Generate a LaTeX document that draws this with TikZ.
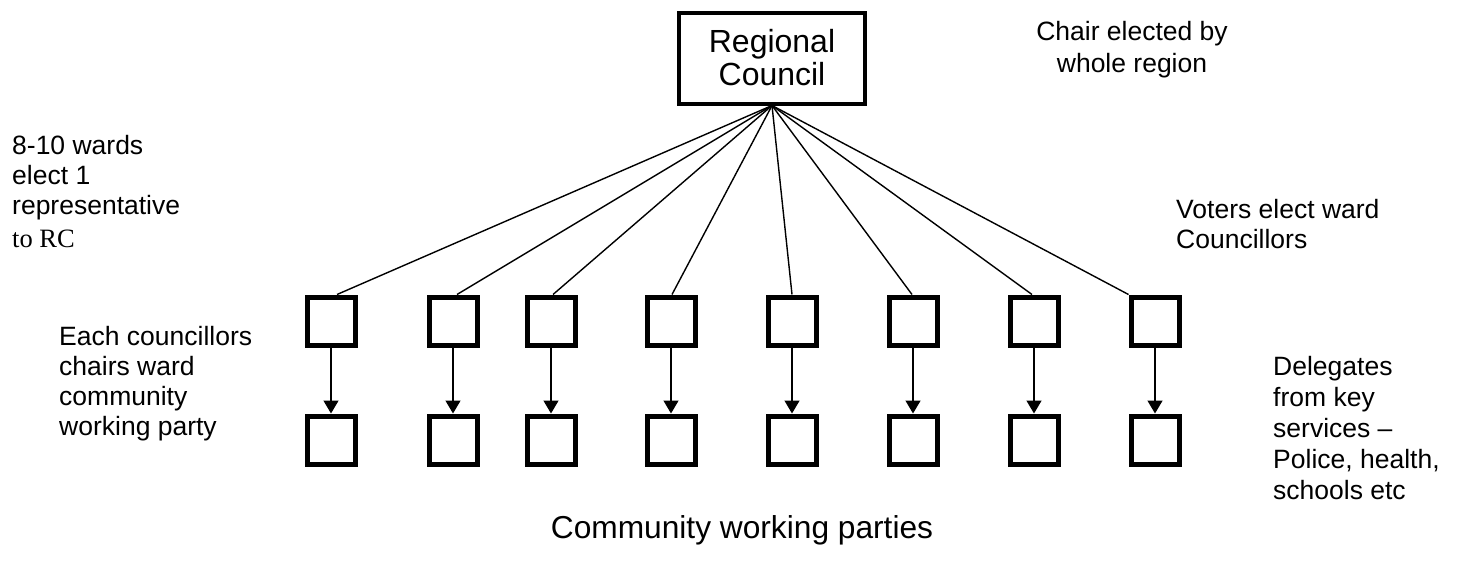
\documentclass[tikz,border=0pt]{standalone}
\usepackage{fontspec}
\setmainfont{Liberation Sans}
\newfontfamily\timesrm{Liberation Serif}
\usetikzlibrary{arrows.meta}
\begin{document}
\begin{tikzpicture}[x=1pt,y=-1pt,
  unit/.style={draw, line width=5pt, minimum size=48pt, inner sep=0pt},
  council/.style={draw, line width=4pt, minimum width=186pt, minimum height=91pt,
    inner sep=0pt, align=center, font=\fontsize{32}{33}\selectfont},
  note/.style={inner sep=0pt, align=left, anchor=base west,
    font=\fontsize{26.5}{30}\selectfont},
  cnote/.style={inner sep=0pt, align=center, anchor=base,
    font=\fontsize{26.5}{32}\selectfont},
  link/.style={line width=1.4pt},
  feed/.style={line width=1.4pt, -{Triangle[width=15pt,length=13pt]}},
]
\useasboundingbox (0,0) rectangle (1463,560);

% regional council at the top
\node[council] (rc) at (772,58) {Regional\\Council};

% ward councillors (top row) and community working parties (bottom row)
\foreach \i/\x in {1/331,2/453,3/551,4/671,5/792,6/913,7/1034,8/1155} {
  \node[unit] (t\i) at (\x,321) {};
  \node[unit] (b\i) at (\x,440) {};
}

% links from the council to each ward councillor
\foreach \i/\s in {1/6,2/4,3/2,4/1,5/0,6/-1,7/-2} {
  \draw[link] (rc.south) -- ([xshift=\s pt]t\i.north);
}
\draw[link] (rc.south) -- (t8.north west);

% each councillor chairs a working party
\foreach \i in {1,...,8} {
  \draw[feed] (t\i.south) -- (b\i.north);
}

% annotations (anchored on the baseline of their last line)
\node[cnote] (chair) at (1132,72) {Chair elected by\\whole region};
\node[note] (wards) at (12,247) {8-10 wards\\elect 1\\representative\\[3pt]{\timesrm to RC}};
\node[note] (voters) at (1176,248) {Voters elect ward\\Councillors};
\node[note] (each) at (59,435) {Each councillors\\chairs ward\\community\\working party};
\node[note, font=\fontsize{26.5}{31}\selectfont] (deleg) at (1273,499)
  {Delegates\\from key\\services --\\Police, health,\\schools etc};
\node[inner sep=0pt, anchor=base, font=\fontsize{31.7}{33}\selectfont] (cwp) at (742,538)
  {Community working parties};
\end{tikzpicture}
\end{document}
